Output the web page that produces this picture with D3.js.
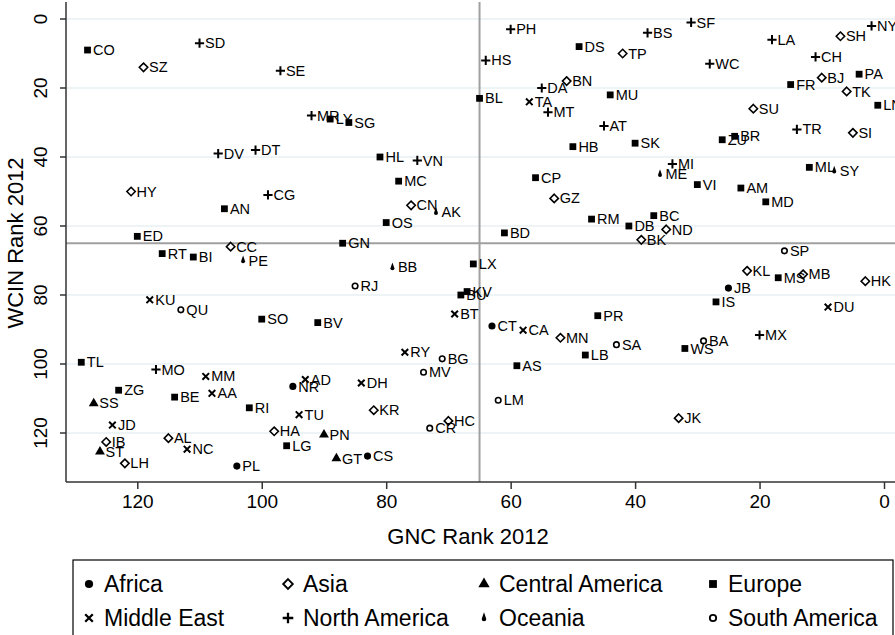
<!DOCTYPE html>
<html>
<head>
<meta charset="utf-8">
<script src="https://cdn.jsdelivr.net/npm/d3@7"></script>
<style>
  body { margin: 0; background: #fff; }
  text { font-family: Arial, "Liberation Sans", sans-serif; fill: #000; }
</style>
</head>
<body>
<div id="chart"></div>
<script>
// [label, GNC rank, WCIN rank]
let africa = [['CT', 63, 89], ['JB', 25, 78], ['NR', 95, 106.5], ['CS', 83, 126.7], ['PL', 104, 129.6]]
let asia = [
  ['SZ', 119, 14], ['TP', 42, 10], ['BN', 51, 18], ['SH', 7, 5], ['BJ', 10, 17], ['TK', 6, 21],
  ['SU', 21, 26], ['SI', 5, 33], ['HY', 121, 50], ['CC', 105, 66], ['CN', 76, 54], ['GZ', 53, 52],
  ['ND', 35, 61], ['BK', 39, 64], ['KL', 22, 73], ['MB', 13, 74], ['HK', 3, 76], ['IB', 125, 122.6],
  ['AL', 115, 121.5], ['LH', 122, 128.8], ['HA', 98, 119.5], ['KR', 82, 113.4], ['HC', 70, 116.5],
  ['MN', 52, 92.4], ['JK', 33, 115.7]
]
let centralAmerica = [['SS', 127, 111.4], ['ST', 126, 125.4], ['PN', 90, 120.5], ['GT', 88, 127.4]]
let europe = [
  ['CO', 128, 9], ['LY', 89, 29], ['SG', 86, 30], ['HL', 81, 40], ['BL', 65, 23], ['DS', 49, 8],
  ['MU', 44, 22], ['HB', 50, 37], ['SK', 40, 36], ['PA', 4, 16], ['FR', 15, 19], ['LN', 1, 25],
  ['ZU', 26, 35], ['BR', 24, 34], ['ML', 12, 43], ['AN', 106, 55], ['ED', 120, 63], ['RT', 116, 68],
  ['BI', 111, 69], ['SO', 100, 87], ['MC', 78, 47], ['OS', 80, 59], ['GN', 87, 65], ['LX', 66, 71],
  ['KV', 67, 79], ['BU', 68, 80], ['BV', 91, 88], ['CP', 56, 46], ['RM', 47, 58], ['DB', 41, 60],
  ['BC', 37, 57], ['BD', 61, 62], ['PR', 46, 86], ['VI', 30, 48], ['AM', 23, 49], ['MD', 19, 53],
  ['MS', 17, 75], ['IS', 27, 82], ['TL', 129, 99.5], ['ZG', 123, 107.6], ['BE', 114, 109.6],
  ['RI', 102, 112.7], ['LG', 96, 123.7], ['LB', 48, 97.4], ['AS', 59, 100.5], ['WS', 32, 95.5]
]
let middleEast = [
  ['TA', 57, 24], ['KU', 118, 81.4], ['BT', 69, 85.5], ['CA', 58, 90.2], ['DU', 9, 83.5],
  ['MM', 109, 103.6], ['AA', 108, 108.5], ['JD', 124, 117.7], ['NC', 112, 124.7], ['RY', 77, 96.6],
  ['AD', 93, 104.5], ['DH', 84, 105.5], ['TU', 94, 114.7]
]
let northAmerica = [
  ['SD', 110, 7], ['DV', 107, 39], ['DT', 101, 38], ['SE', 97, 15], ['MR', 92, 28], ['VN', 75, 41],
  ['HS', 64, 12], ['PH', 60, 3], ['BS', 38, 4], ['DA', 55, 20], ['MT', 54, 27], ['AT', 45, 31],
  ['MI', 34, 42], ['SF', 31, 1], ['LA', 18, 6], ['NY', 2, 2], ['WC', 28, 13], ['CH', 11, 11],
  ['TR', 14, 32], ['CG', 99, 51], ['MO', 117, 101.6], ['MX', 20, 91.6]
]
let oceania = [['PE', 103, 70], ['AK', 72, 56], ['BB', 79, 72], ['ME', 36, 45], ['SY', 8, 44]]
let southAmerica = [
  ['QU', 113, 84.3], ['RJ', 85, 77.4], ['SP', 16, 67.2], ['BG', 71, 98.5], ['MV', 74, 102.4],
  ['CR', 73, 118.6], ['SA', 43, 94.4], ['LM', 62, 110.5], ['BA', 29, 93.3]
]

let regions = ['Africa', 'Asia', 'Central America', 'Europe', 'Middle East', 'North America', 'Oceania', 'South America']
let regionData = [africa, asia, centralAmerica, europe, middleEast, northAmerica, oceania, southAmerica]
let xTicks = [120, 100, 80, 60, 40, 20, 0]
let yTicks = [0, 20, 40, 60, 80, 100, 120]
let refLine = 65

let W = 895
let H = 635
let plot = { left: 66, right: 910, top: 2, bottom: 482 }

let svg = d3.select('#chart').append('svg')
  .attr('width', W)
  .attr('height', H)

let x = d3.scaleLinear().domain([120, 0]).range([137.3, 884])
let y = d3.scaleLinear().domain([0, 120]).range([19, 433])

// gridlines
svg.append('g')
  .selectAll('line')
  .data(yTicks)
  .enter().append('line')
  .attr('x1', plot.left).attr('x2', plot.right)
  .attr('y1', d => y(d)).attr('y2', d => y(d))
  .attr('stroke', '#e8f0f3')
  .attr('stroke-width', 1.5)

// reference lines
svg.append('line')
  .attr('x1', x(refLine)).attr('x2', x(refLine))
  .attr('y1', plot.top).attr('y2', plot.bottom)
  .attr('stroke', '#a0a0a0').attr('stroke-width', 2)
svg.append('line')
  .attr('x1', plot.left).attr('x2', plot.right)
  .attr('y1', y(refLine)).attr('y2', y(refLine))
  .attr('stroke', '#a0a0a0').attr('stroke-width', 2)

// axes
let yAxis = d3.axisLeft(y).tickValues(yTicks).tickSize(6).tickPadding(12)
let gy = svg.append('g').attr('transform', 'translate(' + plot.left + ',0)').call(yAxis)
gy.select('.domain').attr('d', 'M0,' + plot.top + 'V' + plot.bottom)
gy.selectAll('text')
  .attr('font-size', 19)
  .attr('text-anchor', 'middle')
  .attr('dy', 0)
  .attr('x', 0)
  .attr('transform', d => 'translate(-19,' + y(d) + ') rotate(-90)')
  .attr('y', 0)
gy.selectAll('.tick').attr('transform', null)
gy.selectAll('.tick line').attr('y1', d => y(d)).attr('y2', d => y(d))

let xAxis = d3.axisBottom(x).tickValues(xTicks).tickSize(7).tickPadding(6)
let gx = svg.append('g').attr('transform', 'translate(0,' + plot.bottom + ')').call(xAxis)
gx.select('.domain').attr('d', 'M' + plot.left + ',0H' + plot.right)
gx.selectAll('text').attr('font-size', 19)

svg.selectAll('.domain, .tick line').attr('stroke', '#333').attr('stroke-width', 1.5)
svg.selectAll('.tick text').style('font-family', 'Arial, "Liberation Sans", sans-serif').attr('fill', '#000')

// axis titles
svg.append('text')
  .attr('x', 468).attr('y', 544)
  .attr('text-anchor', 'middle')
  .attr('font-size', 22)
  .text('GNC Rank 2012')
svg.append('text')
  .attr('transform', 'translate(23,243) rotate(-90)')
  .attr('text-anchor', 'middle')
  .attr('font-size', 22)
  .text('WCIN Rank 2012')

// marker shapes, one per region
let shapes = [
  { d: d3.symbol(d3.symbolCircle, 40)(), fill: '#000', stroke: 'none' },
  { d: 'M0,-4.2L4.2,0L0,4.2L-4.2,0Z', fill: '#fff', stroke: '#000', sw: 1.6 },
  { d: d3.symbol(d3.symbolTriangle, 42)(), fill: '#000', stroke: 'none' },
  { d: 'M-3.4,-3.4H3.4V3.4H-3.4Z', fill: '#000', stroke: 'none' },
  { d: 'M-3.3,-3.3L3.3,3.3M3.3,-3.3L-3.3,3.3', fill: 'none', stroke: '#000', sw: 2 },
  { d: 'M-4.6,0H4.6M0,-4.6V4.6', fill: 'none', stroke: '#000', sw: 2 },
  { d: 'M0,-5L2,0.8A2,2 0 1,1 -2,0.8Z', fill: '#000', stroke: 'none' },
  { d: d3.symbol(d3.symbolCircle, 24)(), fill: '#fff', stroke: '#000', sw: 1.6 }
]

let points = svg.append('g')
regionData.forEach(function (data, i) {
  let s = shapes[i]
  let g = points.append('g')
    .selectAll('g')
    .data(data)
    .enter().append('g')
    .attr('transform', d => 'translate(' + x(d[1]) + ',' + y(d[2]) + ')')
  g.append('path')
    .attr('d', s.d)
    .attr('fill', s.fill)
    .attr('stroke', s.stroke)
    .attr('stroke-width', s.sw || 0)
  g.append('text')
    .attr('x', 5.5)
    .attr('dy', '0.35em')
    .attr('font-size', 14.5)
    .text(d => d[0])
})

// legend
let legend = svg.append('g')
legend.append('rect')
  .attr('x', 73).attr('y', 560)
  .attr('width', 820).attr('height', 90)
  .attr('fill', '#fff')
  .attr('stroke', '#000')
  .attr('stroke-width', 1.2)

let colX = [89, 288, 484, 713]
let rowY = [584, 618]
regions.forEach(function (name, i) {
  let s = shapes[i]
  let lx = colX[i % 4]
  let ly = rowY[Math.floor(i / 4)]
  legend.append('path')
    .attr('transform', 'translate(' + lx + ',' + ly + ') scale(1.15)')
    .attr('d', s.d)
    .attr('fill', s.fill)
    .attr('stroke', s.stroke)
    .attr('stroke-width', s.sw || 0)
  legend.append('text')
    .attr('x', lx + 15).attr('y', ly)
    .attr('dy', '0.35em')
    .attr('font-size', 23)
    .text(name)
})
</script>
</body>
</html>
